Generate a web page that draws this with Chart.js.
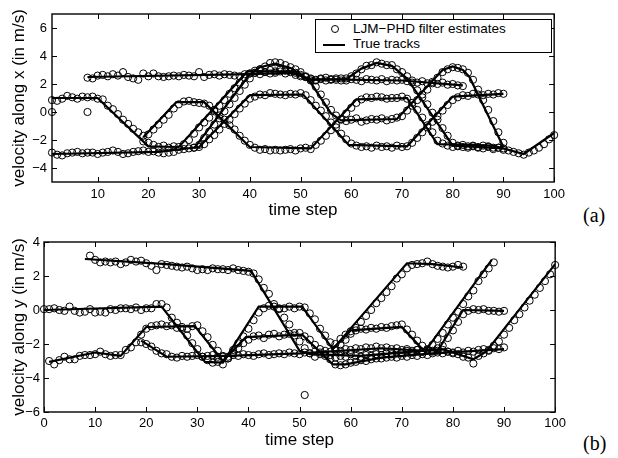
<!DOCTYPE html>
<html>
<head>
<meta charset="utf-8">
<script src="https://cdn.jsdelivr.net/npm/chart.js@4.4.0/dist/chart.umd.min.js"></script>
<style>
body{margin:0;background:#fff;width:618px;height:458px;position:relative;overflow:hidden;font-family:"Liberation Sans",Arial,sans-serif;}
canvas{position:absolute;left:0;}
#graficoX{top:0;}
#graficoY{top:230px;}
.legenda{position:absolute;left:315px;top:19px;width:235px;height:32px;border:1px solid #000;background:#fff;font-size:13.5px;color:#000;}
.legenda .circ{position:absolute;left:15px;top:5px;width:8px;height:8px;box-sizing:border-box;border:1px solid #000;border-radius:50%;}
.legenda .traco{position:absolute;left:7px;top:24px;width:22px;height:2px;background:#000;}
.legenda .txt{position:absolute;left:37px;line-height:16px;white-space:nowrap;}
.rotulo{position:absolute;left:583px;font-family:"Liberation Serif","DejaVu Serif",serif;font-size:20px;line-height:20px;color:#000;}
</style>
</head>
<body>
<canvas id="graficoX" width="570" height="230"></canvas>
<canvas id="graficoY" width="570" height="228"></canvas>
<div class="legenda">
  <span class="circ"></span><span class="txt" id="leg1" style="top:1px"></span>
  <span class="traco"></span><span class="txt" id="leg2" style="top:16px"></span>
</div>
<div class="rotulo" style="top:205px">(a)</div>
<div class="rotulo" style="top:433px">(b)</div>
<script>
//TEXTOS
var legendLabels = ['LJM\u2212PHD filter estimates', 'True tracks'];
var xTitle = 'time step';
var yTitleX = 'velocity along x (in m/s)';
var yTitleY = 'velocity along y (in m/s)';

//EIXOS
var xTicksX = [10, 20, 30, 40, 50, 60, 70, 80, 90, 100];
var yTicksX = [-4, -2, 0, 2, 4, 6];
var xTicksY = [0, 10, 20, 30, 40, 50, 60, 70, 80, 90, 100];
var yTicksY = [-6, -4, -2, 0, 2, 4];

//TRILHAS VERDADEIRAS - VELOCIDADE EM X  [tempo, valor]
var trueXA = [[8,2.5],[40,2.7],[48,2.8],[52,2.35],[70,2.25],[82,1.9]];
var trueXB = [[1,1.0],[10,1.0],[20,-2.45],[26,-2.5],[39.5,2.9],[48,2.9],[52,2.3],[59,2.35],[62,3.1],[65,3.5],[68,3.3],[71,2.4],[80,-2.4],[90,-2.6]];
var trueXC = [[19,-1.8],[25.5,0.7],[31,0.7],[40,-2.5],[52,-2.6],[61,0.9],[71,1.0],[77,-2.3],[88,-2.4],[94,-3.0],[100,-1.5]];
var trueXD = [[1,-3.0],[22,-2.85],[30,-2.5],[40,1.2],[50.5,1.25],[59.5,-2.35],[71,-2.45],[80,1.1],[90,1.3]];
var trueXE = [[29,-2.6],[39.8,2.6],[42,3.2],[45,3.45],[48,3.15],[50,2.7],[52,2.1],[56,-0.1],[58,-0.6],[69,-0.5],[78,3.0],[80,3.25],[82,3.0],[83.3,2.5],[90,-2.5]];

//ESTIMATIVAS - VELOCIDADE EM X (um valor por passo, a partir do inicio)
var startXA = 8;
var estXA = [2.45,2.40,2.60,2.65,2.55,2.70,2.60,2.85,2.50,2.40,
  2.30,2.75,2.55,2.75,2.55,2.50,2.55,2.60,2.55,2.65,
  2.60,2.55,2.85,2.50,2.65,2.70,2.60,2.70,2.65,2.60,
  2.55,2.70,2.75,2.80,2.70,2.85,2.75,2.80,2.90,2.75,
  2.85,2.65,2.55,2.50,2.35,2.30,2.40,2.25,2.35,2.30,
  2.40,2.25,2.35,2.30,2.20,2.35,2.30,2.25,2.35,2.20,
  2.30,2.25,2.30,2.20,2.25,2.10,2.20,2.05,2.15,2.00,
  2.10,1.95,2.00,1.90,1.85];
var startXB = 1;
var estXB = [0.85,0.80,0.95,1.15,1.05,0.95,1.10,1.05,1.10,0.95,
  0.90,0.45,0.20,-0.15,-0.55,-0.85,-1.20,-1.45,-2.10,-2.20,
  -2.35,-2.50,-2.40,-2.55,-2.45,-2.50,-2.30,-2.00,-1.55,-1.10,
  -0.75,-0.40,0.05,0.45,0.85,1.30,1.70,2.10,2.45,2.75,
  2.95,3.05,2.85,3.00,2.90,3.05,2.95,2.90,2.80,2.65,
  2.50,2.40,2.25,2.35,2.45,2.30,2.40,2.25,2.40,2.55,
  2.75,3.05,3.30,3.35,3.55,3.45,3.35,3.35,3.05,2.85,
  2.55,2.10,1.55,1.05,0.55,-0.05,-0.55,-1.15,-1.70,-2.20,
  -2.40,-2.50,-2.55,-2.45,-2.55,-2.60,-2.50,-2.65,-2.55,-2.60];
var startXC = 19;
var estXC = [-1.70,-1.60,-1.25,-0.90,-0.55,-0.20,0.25,0.55,0.75,0.80,
  0.70,0.65,0.60,0.45,0.15,-0.25,-0.55,-0.95,-1.25,-1.70,
  -2.05,-2.35,-2.55,-2.70,-2.65,-2.75,-2.70,-2.75,-2.70,-2.65,
  -2.75,-2.60,-2.55,-2.65,-2.35,-2.05,-1.70,-1.30,-0.90,-0.55,
  -0.10,0.30,0.65,0.90,1.05,1.00,1.10,1.05,0.95,1.00,
  1.00,1.10,0.95,0.65,0.15,-0.40,-0.95,-1.45,-2.05,-2.25,
  -2.40,-2.50,-2.45,-2.35,-2.45,-2.40,-2.50,-2.40,-2.45,-2.55,
  -2.55,-2.70,-2.75,-2.85,-2.95,-3.05,-2.90,-2.75,-2.55,-2.30,
  -1.95,-1.65];
var startXD = 1;
var estXD = [-2.90,-3.05,-3.10,-2.95,-2.90,-2.85,-2.95,-2.90,-2.90,-3.00,
  -2.90,-2.85,-2.75,-2.85,-3.00,-2.95,-2.85,-2.80,-2.75,-2.85,
  -2.80,-2.90,-2.95,-2.90,-2.85,-2.70,-2.65,-2.60,-2.55,-2.50,
  -2.30,-1.95,-1.65,-1.25,-0.85,-0.55,-0.15,0.25,0.60,0.95,
  1.10,1.25,1.20,1.35,1.30,1.25,1.20,1.30,1.25,1.35,
  1.20,0.85,0.45,0.10,-0.30,-0.75,-1.10,-1.55,-1.95,-2.25,
  -2.40,-2.50,-2.45,-2.55,-2.40,-2.50,-2.45,-2.55,-2.40,-2.50,
  -2.45,-2.20,-1.85,-1.45,-1.10,-0.70,-0.30,0.10,0.50,0.85,
  1.05,1.20,1.15,1.30,1.25,1.20,1.30,1.25,1.35,1.30];
var startXE = 29;
var estXE = [-2.55,-2.35,-1.85,-1.40,-0.90,-0.45,0.05,0.55,1.00,1.50,
  1.95,2.40,2.80,3.05,3.25,3.50,3.55,3.50,3.35,3.20,
  3.05,2.85,2.55,2.25,1.80,1.25,0.70,0.15,-0.25,-0.50,
  -0.65,-0.55,-0.45,-0.70,-0.60,-0.50,-0.55,-0.45,-0.60,-0.50,
  -0.40,-0.30,0.10,0.45,0.85,1.25,1.60,2.05,2.45,2.85,
  3.05,3.20,3.15,3.05,2.80,2.30,1.60,0.85,0.15,-0.65,
  -1.45,-2.20];
var extraXTime = [1, 8];
var extraXVal = [0.0, 0.0];

//TRILHAS VERDADEIRAS - VELOCIDADE EM Y
var trueYA = [[8,3.0],[24,2.7],[40.5,2.3],[50,-2.4],[52,-2.6],[62,-2.7],[72,-2.45],[78,-2.3],[84,-2.9],[86.5,-2.45],[100,2.7]];
var trueYB = [[0,0.0],[23,0.2],[31.5,-3.05],[35,-3.1],[42,0.2],[50.5,0.2],[56.5,-2.3],[71,2.75],[76,2.7],[82,2.5]];
var trueYC = [[56.5,-2.3],[60,-1.2],[70,-1.0],[74,-2.3],[77,-2.4],[82,0.0],[90,-0.05]];
var trueYD = [[1,-3.05],[10,-2.5],[15,-2.7],[20,-1.0],[29.5,-0.95],[35,-3.0],[39.5,-1.6],[50.5,-1.45],[56.5,-3.2],[59,-3.2],[66,-2.8],[76,-2.55],[82,-2.45],[90,-2.3]];
var trueYE = [[19,-1.8],[24,-2.75],[36,-2.7],[50,-2.55],[66,-2.25],[74.6,-2.4],[87.6,2.95]];

//ESTIMATIVAS - VELOCIDADE EM Y
var startYA = 9;
var estYA = [3.20,2.95,2.80,2.85,2.80,2.85,2.70,2.80,2.95,2.85,
  2.90,2.75,2.60,2.35,2.70,2.65,2.60,2.55,2.50,2.55,
  2.45,2.35,2.40,2.35,2.45,2.40,2.40,2.35,2.45,2.35,
  2.30,2.25,2.15,1.80,1.30,0.95,0.35,0.10,-0.45,-0.85,
  -1.35,-1.85,-2.25,-2.55,-2.75,-2.60,-2.70,-2.65,-2.80,-2.70,
  -2.75,-2.60,-2.70,-2.75,-2.65,-2.70,-2.60,-2.65,-2.55,-2.60,
  -2.50,-2.55,-2.40,-2.50,-2.35,-2.45,-2.30,-2.40,-2.25,-2.35,
  -2.45,-2.55,-2.60,-2.75,-2.80,-3.15,-2.70,-2.55,-2.40,-2.10,
  -1.85,-1.45,-1.05,-0.60,-0.25,0.15,0.55,0.90,1.30,1.70,
  2.10,2.65];
var startYB = 0;
var estYB = [0.05,0.05,0.10,0.00,-0.05,0.20,-0.05,-0.15,-0.10,0.05,
  -0.15,-0.10,-0.15,0.05,0.00,0.10,0.10,0.05,0.15,0.00,
  0.10,0.10,0.35,0.35,0.15,-0.45,-0.75,-1.10,-1.50,-1.95,
  -2.30,-2.75,-2.95,-3.10,-3.05,-3.20,-2.85,-2.35,-1.95,-1.55,
  -1.10,-0.60,-0.15,0.10,0.25,0.20,0.05,0.10,0.20,0.10,
  0.20,0.15,-0.20,-0.55,-1.10,-1.50,-1.90,-2.30,-2.05,-1.75,
  -1.40,-1.05,-0.70,-0.35,0.00,0.40,0.70,1.05,1.40,1.85,
  2.10,2.45,2.65,2.70,2.75,2.85,2.70,2.60,2.55,2.50,
  2.55,2.65,2.55];
var startYC = 57;
var estYC = [-2.00,-1.70,-1.45,-1.25,-1.20,-1.10,-1.15,-1.05,-1.10,-1.00,
  -1.05,-0.95,-0.90,-0.85,-1.15,-1.45,-1.80,-2.10,-2.35,-2.45,
  -2.40,-2.10,-1.65,-1.20,-0.70,-0.25,-0.05,0.05,0.00,0.05,
  -0.05,-0.05,-0.10,-0.05];
var startYD = 1;
var estYD = [-3.00,-3.20,-2.95,-2.75,-2.90,-2.90,-2.70,-2.65,-2.65,-2.60,
  -2.45,-2.60,-2.70,-2.65,-2.65,-2.35,-2.20,-1.90,-1.45,-1.10,
  -0.95,-0.90,-0.85,-0.95,-0.90,-1.05,-1.00,-1.10,-0.95,-0.90,
  -1.25,-1.60,-2.05,-2.40,-2.75,-2.85,-2.55,-2.25,-1.95,-1.75,
  -1.55,-1.50,-1.65,-1.45,-1.40,-1.55,-1.45,-1.40,-1.50,-1.35,
  -1.55,-1.75,-2.05,-2.30,-2.60,-2.90,-3.20,-3.25,-3.20,-3.10,
  -3.05,-2.95,-3.00,-2.90,-2.85,-2.85,-2.80,-2.75,-2.80,-2.70,
  -2.75,-2.65,-2.70,-2.60,-2.65,-2.55,-2.50,-2.55,-2.45,-2.50,
  -2.40,-2.50,-2.40,-2.45,-2.35,-2.30,-2.35,-2.25,-2.30,-2.20];
var startYE = 19;
var estYE = [-1.90,-2.00,-2.15,-2.40,-2.55,-2.60,-2.75,-2.80,-2.70,-2.75,
  -2.70,-2.65,-2.75,-2.70,-2.65,-2.75,-2.70,-2.75,-2.65,-2.70,
  -2.60,-2.65,-2.70,-2.60,-2.55,-2.65,-2.60,-2.55,-2.60,-2.50,
  -2.55,-2.60,-2.50,-2.55,-2.45,-2.50,-2.40,-2.45,-2.35,-2.40,
  -2.30,-2.35,-2.25,-2.30,-2.20,-2.25,-2.15,-2.25,-2.20,-2.30,
  -2.25,-2.35,-2.30,-2.40,-2.35,-2.45,-2.40,-2.05,-1.70,-1.35,
  -0.85,-0.45,-0.10,0.35,0.80,1.15,1.70,2.10,2.45,2.80];
var extraYTime = [51];
var extraYVal = [-5.0];

Chart.defaults.font.family = '"Liberation Sans", Arial, sans-serif';
Chart.defaults.color = '#000';

document.getElementById('leg1').textContent = legendLabels[0];
document.getElementById('leg2').textContent = legendLabels[1];

function pontosEstimados(inicio, valores) {
  return valores.map(function (v, i) { return {x: inicio + i, y: v}; });
}
function pontosTrilha(vertices) {
  return vertices.map(function (p) { return {x: p[0], y: p[1]}; });
}
function formataMenos(v) {
  return String(v).replace('-', '\u2212');
}

//MOLDURA E MARCAS PARA DENTRO
var moldura = {
  id: 'moldura',
  afterDatasetsDraw: function (chart) {
    var ctx = chart.ctx, a = chart.chartArea;
    var sx = chart.scales.x, sy = chart.scales.y;
    ctx.save();
    ctx.strokeStyle = '#000';
    ctx.lineWidth = 1;
    ctx.beginPath();
    sx.ticks.forEach(function (t) {
      var px = Math.round(sx.getPixelForValue(t.value)) + 0.5;
      ctx.moveTo(px, a.bottom); ctx.lineTo(px, a.bottom - 5);
      ctx.moveTo(px, a.top); ctx.lineTo(px, a.top + 5);
    });
    sy.ticks.forEach(function (t) {
      var py = Math.round(sy.getPixelForValue(t.value)) + 0.5;
      ctx.moveTo(a.left, py); ctx.lineTo(a.left + 5, py);
      ctx.moveTo(a.right, py); ctx.lineTo(a.right - 5, py);
    });
    ctx.stroke();
    ctx.lineWidth = 1.4;
    ctx.strokeRect(a.left, a.top, a.right - a.left, a.bottom - a.top);
    ctx.restore();
  }
};

function criaGrafico(id, trilhas, estimativas, extras, cfg) {
  var datasets = [];
  trilhas.forEach(function (tr) {
    datasets.push({
      data: pontosTrilha(tr), showLine: true, borderColor: '#000', borderWidth: 2.2,
      pointRadius: 0, pointHoverRadius: 0, tension: 0, fill: false
    });
  });
  estimativas.concat([extras]).forEach(function (pts) {
    datasets.push({
      data: pts, showLine: false, pointStyle: 'circle', pointRadius: 3.6, pointHoverRadius: 3.6,
      borderColor: '#000', borderWidth: 1, backgroundColor: 'rgba(0,0,0,0)', clip: false
    });
  });
  return new Chart(document.getElementById(id), {
    type: 'scatter',
    data: {datasets: datasets},
    plugins: [moldura],
    options: {
      responsive: false,
      animation: false,
      events: [],
      layout: {padding: {top: cfg.top, right: 13, left: 0, bottom: 0}},
      plugins: {legend: {display: false}, tooltip: {enabled: false}},
      scales: {
        x: {
          type: 'linear', min: cfg.xMin, max: 100,
          afterBuildTicks: function (s) { s.ticks = cfg.xTicks.map(function (v) { return {value: v}; }); },
          afterFit: function (s) { s.height = cfg.xHeight; },
          grid: {display: false, drawTicks: false},
          border: {display: false},
          ticks: {font: {size: 13}, color: '#000', padding: cfg.xPad, autoSkip: false, maxRotation: 0},
          title: {display: true, text: xTitle, font: {size: 17}, color: '#000', padding: {top: 0, bottom: cfg.titlePad}}
        },
        y: {
          type: 'linear', min: cfg.yMin, max: cfg.yMax,
          afterBuildTicks: function (s) { s.ticks = cfg.yTicks.map(function (v) { return {value: v}; }); },
          afterFit: function (s) { s.width = cfg.yWidth; },
          grid: {display: false, drawTicks: false},
          border: {display: false},
          ticks: {font: {size: 13}, color: '#000', padding: cfg.yPad, autoSkip: false, callback: formataMenos},
          title: {display: true, text: cfg.yTitle, font: {size: 17}, color: '#000', padding: {top: 9, bottom: 0}}
        }
      }
    }
  });
}

var extrasX = extraXTime.map(function (t, i) { return {x: t, y: extraXVal[i]}; });
var extrasY = extraYTime.map(function (t, i) { return {x: t, y: extraYVal[i]}; });

criaGrafico('graficoX',
  [trueXA, trueXB, trueXC, trueXD, trueXE],
  [pontosEstimados(startXA, estXA), pontosEstimados(startXB, estXB), pontosEstimados(startXC, estXC),
   pontosEstimados(startXD, estXD), pontosEstimados(startXE, estXE)],
  extrasX,
  {top: 14, xMin: 1, xTicks: xTicksX, yMin: -5, yMax: 7, yTicks: yTicksX, yTitle: yTitleX,
   xHeight: 48, yWidth: 52, xPad: 5, yPad: 5, titlePad: 9});

criaGrafico('graficoY',
  [trueYA, trueYB, trueYC, trueYD, trueYE],
  [pontosEstimados(startYA, estYA), pontosEstimados(startYB, estYB), pontosEstimados(startYC, estYC),
   pontosEstimados(startYD, estYD), pontosEstimados(startYE, estYE)],
  extrasY,
  {top: 12, xMin: 0, xTicks: xTicksY, yMin: -6, yMax: 4, yTicks: yTicksY, yTitle: yTitleY,
   xHeight: 46, yWidth: 44, xPad: 4, yPad: 4, titlePad: 7});
</script>
</body>
</html>
